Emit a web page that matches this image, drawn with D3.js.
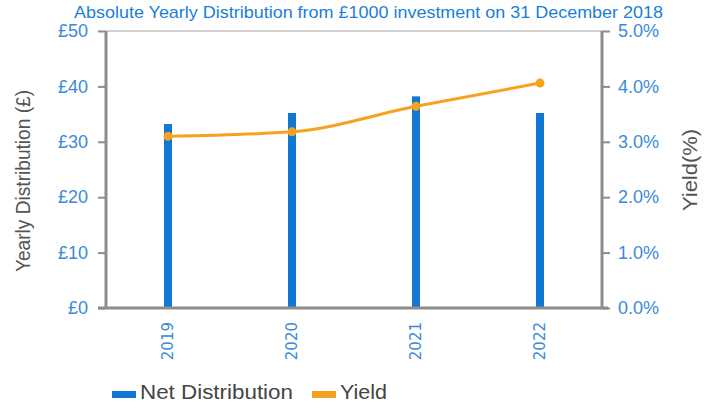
<!DOCTYPE html>
<html><head><meta charset="utf-8">
<script src="https://cdn.jsdelivr.net/npm/d3@7"></script>
<style>body{margin:0;background:#fff;font-family:Arial,"Liberation Sans",sans-serif}</style>
</head><body><svg id="c" width="713" height="409"></svg>
<script>
const years = ["2019","2020","2021","2022"];
const netDistribution = [33.2, 35.2, 38.2, 35.2];
const yieldPct = [3.10, 3.18, 3.64, 4.06];
const leftTicks = [0,10,20,30,40,50];
const rightTicks = [0,1,2,3,4,5];

const svg = d3.select("#c");
const L=106, R=602, T=31, B=308;
const blue="#1177d1", orange="#f5a31e", grey="#8c8c8c", lblBlue="#3b8ad8";
const FF="Arial, Liberation Sans, sans-serif";

const x = d3.scaleBand().domain(years).range([L,R]);
const yL = d3.scaleLinear().domain([0,50]).range([B,T]);
const yR = d3.scaleLinear().domain([0,5]).range([B,T]);

// top border
svg.append("line").attr("x1",L).attr("x2",R).attr("y1",T).attr("y2",T).attr("stroke","#d0d0d0").attr("stroke-width",2);

// bars
svg.selectAll(".bar").data(years).enter().append("rect")
  .attr("x",d=>x(d)+x.bandwidth()/2-4).attr("width",8)
  .attr("y",(d,i)=>yL(netDistribution[i])).attr("height",(d,i)=>B-yL(netDistribution[i]))
  .attr("fill",blue);

// left axis
const ga = svg.append("g").attr("transform",`translate(${L},0)`)
  .call(d3.axisLeft(yL).tickValues(leftTicks).tickFormat(d=>"£"+d).tickSize(8).tickPadding(10));
ga.select(".domain").attr("stroke",grey).attr("stroke-width",3).attr("d",`M0,${T}V${B}`);
ga.selectAll(".tick line").attr("stroke",grey).attr("stroke-width",2);
ga.selectAll("text").attr("fill",lblBlue).attr("font-size",18).attr("font-family",FF);

// right axis
const gr = svg.append("g").attr("transform",`translate(${R},0)`)
  .call(d3.axisRight(yR).tickValues(rightTicks).tickFormat(d=>d.toFixed(1)+"%").tickSize(8).tickPadding(8));
gr.select(".domain").attr("stroke",grey).attr("stroke-width",3).attr("d",`M0,${T}V${B}`);
gr.selectAll(".tick line").attr("stroke",grey).attr("stroke-width",2);
gr.selectAll("text").attr("fill",lblBlue).attr("font-size",18).attr("font-family",FF);

// bottom axis
const gb = svg.append("g").attr("transform",`translate(0,${B})`)
  .call(d3.axisBottom(x).tickSize(0).tickPadding(0));
gb.select(".domain").attr("stroke",grey).attr("stroke-width",3).attr("d",`M${L-8},0H${R+6}`);
gb.selectAll("text").attr("fill",lblBlue).attr("font-size",15).attr("font-family","DejaVu Sans, sans-serif")
  .attr("transform","rotate(-90)").attr("text-anchor","end").attr("dy","0.35em").attr("x",-14).attr("y",0);

// line
const line = d3.line().x((d,i)=>x(years[i])+x.bandwidth()/2).y(d=>yR(d)).curve(d3.curveMonotoneX);
svg.append("path").datum(yieldPct).attr("d",line).attr("fill","none").attr("stroke",orange).attr("stroke-width",3);
svg.selectAll(".pt").data(yieldPct).enter().append("circle")
  .attr("cx",(d,i)=>x(years[i])+x.bandwidth()/2).attr("cy",d=>yR(d)).attr("r",4.5).attr("fill",orange);

// title
svg.append("text").attr("x",368.5).attr("y",18).attr("text-anchor","middle").attr("fill","#1a7fd8")
  .attr("font-size",17).attr("textLength",589).attr("lengthAdjust","spacingAndGlyphs")
  .text("Absolute Yearly Distribution from £1000 investment on 31 December 2018");

// axis titles
svg.append("text").attr("transform",`translate(30,181) rotate(-90)`).attr("text-anchor","middle")
  .attr("fill","#555").attr("font-size",20).attr("textLength",182).attr("lengthAdjust","spacingAndGlyphs")
  .text("Yearly Distribution (£)");
svg.append("text").attr("transform",`translate(697,170) rotate(-90)`).attr("text-anchor","middle")
  .attr("fill","#555").attr("font-size",20).attr("textLength",82).attr("lengthAdjust","spacingAndGlyphs")
  .text("Yield(%)");

// legend
const leg = [{n:"Net Distribution",c:blue,x:112,w:153},{n:"Yield",c:orange,x:312,w:47}];
leg.forEach(l=>{
  svg.append("rect").attr("x",l.x).attr("y",391).attr("width",24).attr("height",7).attr("fill",l.c);
  svg.append("text").attr("x",l.x+28).attr("y",399).attr("fill","#444").attr("font-size",19.5)
    .attr("textLength",l.w).attr("lengthAdjust","spacingAndGlyphs").text(l.n);
});
</script></body></html>
